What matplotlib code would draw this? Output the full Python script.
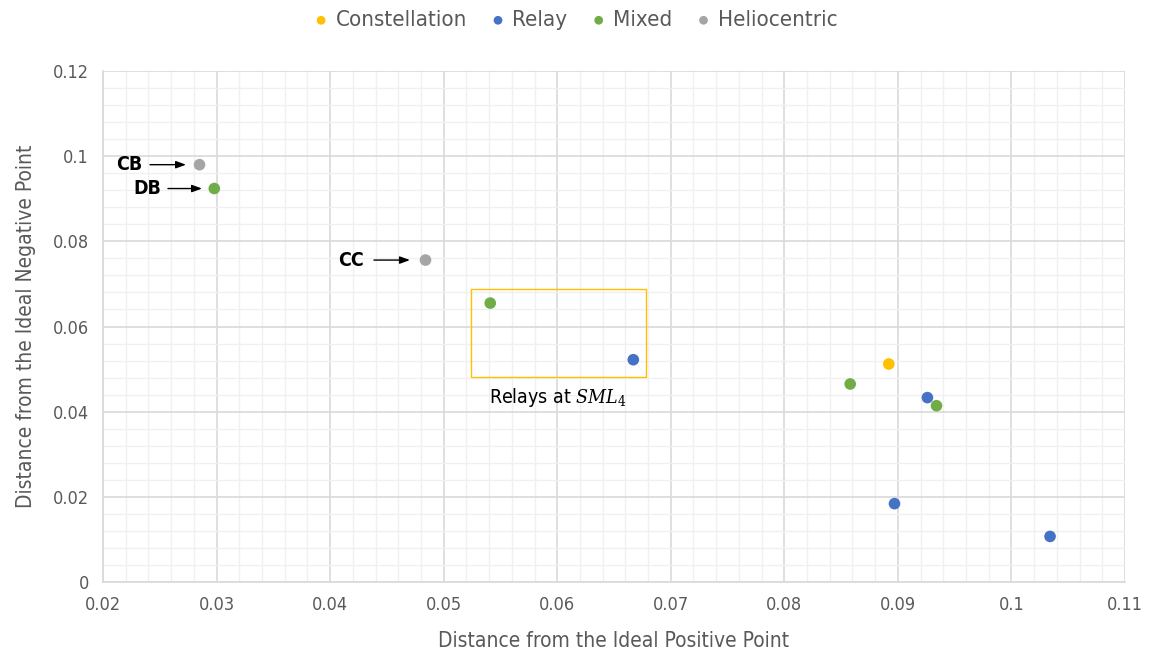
import matplotlib
matplotlib.use("Agg")
import matplotlib.pyplot as plt
from matplotlib.patches import Rectangle

plt.rcParams['font.family'] = ['DejaVu Sans']
plt.rcParams['font.stretch'] = 'condensed'
plt.rcParams['mathtext.fontset'] = 'dejavuserif'

series_names = ["Constellation", "Relay", "Mixed", "Heliocentric"]
colors = ["#FFC000", "#4472C4", "#70AD47", "#A5A5A5"]

constellation_x = [0.0892]
constellation_y = [0.0512]
relay_x = [0.0667, 0.0926, 0.0897, 0.1034]
relay_y = [0.0522, 0.0433, 0.0184, 0.0107]
mixed_x = [0.0298, 0.0541, 0.0858, 0.0934]
mixed_y = [0.0924, 0.0655, 0.0465, 0.0414]
helio_x = [0.0285, 0.0484]
helio_y = [0.0980, 0.0756]

annot_labels = ["CB", "DB", "CC"]
annot_y = [0.0980, 0.0924, 0.0756]
arrow_start_x = [0.02414, 0.02572, 0.04386]
arrow_end_x = [0.02731, 0.02872, 0.04703]
label_right_x = [0.02343, 0.02511, 0.04298]

fig = plt.figure(figsize=(11.52, 6.59), dpi=100)
ax = fig.add_axes([103/1152, 1-582/659, (1125-103)/1152, (582-71)/659])

data = [(constellation_x, constellation_y), (relay_x, relay_y), (mixed_x, mixed_y), (helio_x, helio_y)]
for (xs, ys), name, c in zip(data, series_names, colors):
    ax.scatter(xs, ys, s=70, color=c, label=name, zorder=3, edgecolors='none')

ax.set_xlim(0.02, 0.11)
ax.set_ylim(0, 0.12)
ax.set_xticks([0.02 + 0.01*i for i in range(10)])
ax.set_xticklabels(["0.02", "0.03", "0.04", "0.05", "0.06", "0.07", "0.08", "0.09", "0.1", "0.11"])
ax.set_yticks([0.02*i for i in range(7)])
ax.set_yticklabels(["0", "0.02", "0.04", "0.06", "0.08", "0.1", "0.12"])
ax.set_xticks([0.02 + 0.002*i for i in range(46)], minor=True)
ax.set_yticks([0.004*i for i in range(31)], minor=True)
ax.grid(which='major', color='#D9D9D9', linewidth=1.2, zorder=0)
ax.grid(which='minor', color='#F0F0F0', linewidth=1.0, zorder=0)
ax.set_axisbelow(True)
ax.tick_params(which='both', length=0, labelsize=13, colors='#595959', pad=10)
for s in ['top', 'right']:
    ax.spines[s].set_visible(False)
for s in ['left', 'bottom']:
    ax.spines[s].set_color('#D9D9D9')
    ax.spines[s].set_linewidth(1.2)

ax.set_xlabel("Distance from the Ideal Positive Point", fontsize=15, color='#595959', labelpad=12)
ax.set_ylabel("Distance from the Ideal Negative Point", fontsize=15, color='#595959', labelpad=12)

for lab, y, sx, ex, tx in zip(annot_labels, annot_y, arrow_start_x, arrow_end_x, label_right_x):
    ax.annotate("", xy=(ex, y), xytext=(sx, y),
                arrowprops=dict(arrowstyle='-|>,head_length=0.6,head_width=0.22', color='black',
                                lw=1.0, shrinkA=0, shrinkB=0))
    ax.text(tx, y, lab, ha='right', va='center', fontsize=14, fontweight='bold', color='black')

rect = Rectangle((0.0524, 0.0482), 0.0678 - 0.0524, 0.0688 - 0.0482, fill=False,
                 edgecolor='#FFC000', linewidth=1.0, zorder=2)
ax.add_patch(rect)
ax.text(0.0601, 0.0433, r"Relays at $SML_4$", ha='center', va='center', fontsize=14, color='black')

leg = fig.legend(loc='upper center', bbox_to_anchor=(0.5, 1.015), ncol=4, frameon=False,
                 fontsize=16, handlelength=0.6, handletextpad=0.35, columnspacing=1.1,
                 markerscale=0.75)
for t in leg.get_texts():
    t.set_color('#595959')

fig.savefig("out.png", dpi=100)
